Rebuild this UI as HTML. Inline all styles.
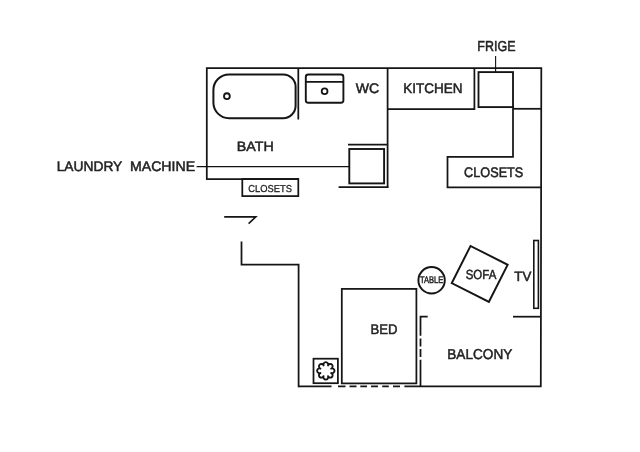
<!DOCTYPE html>
<html><head><meta charset="utf-8"><title>Floor plan</title>
<style>
html,body{margin:0;padding:0;background:#fff;}
body{width:640px;height:452px;overflow:hidden;}
svg{display:block;}
text{font-family:"Liberation Sans",sans-serif;text-rendering:geometricPrecision;fill:#222;stroke:#222;stroke-width:0.5;}
svg{will-change:transform;}
.w{fill:none;stroke:#151515;stroke-width:1.75;stroke-linecap:butt;stroke-linejoin:miter;}
.t{fill:none;stroke:#111;stroke-width:1.1;}
.b{fill:none;stroke:#151515;stroke-width:1.9;}
</style></head>
<body>
<svg width="640" height="452" viewBox="0 0 640 452">
<rect width="640" height="452" fill="#fff"/>
<!-- outer walls -->
<path class="w" d="M206.8 179.6V68.2H541.3L540.8 386.4H404.4"/>
<path class="w" d="M206 179H299"/>
<path class="w" d="M298.5 386.4H331.5"/>
<!-- dashed bottom -->
<path class="w" d="M338 386.4H345.5M349.5 386.4H356.5M360.3 386.4H367M371 386.4H378M382.2 386.4H388.8M393 386.4H400"/>
<!-- left lower walls -->
<path class="w" d="M241.5 241.4V264.5H298.6V387.3"/>
<!-- door -->
<path class="w" d="M224.2 216.9H255.8L248.6 223.7" style="stroke-width:1.6"/>
<!-- bath partition -->
<path class="w" d="M298.3 68V119.5"/>
<!-- bathtub -->
<path class="w" style="stroke-width:2" d="M229 74.4H283.2A12.4 12.4 0 0 1 295.6 86.8V105.8A12.4 12.4 0 0 1 283.2 118.2H229A15.6 15.6 0 0 1 213.4 102.6V90A15.6 15.6 0 0 1 229 74.4Z"/>
<circle class="w" cx="226.9" cy="96.2" r="2.9" style="stroke-width:1.85"/>
<!-- sink -->
<rect class="w" x="305.8" y="74.5" width="37.6" height="28.3" rx="2.5" style="stroke-width:1.9"/>
<path class="w" d="M305.6 81.8H343.4"/>
<circle class="w" cx="324.6" cy="91.3" r="2.9" style="stroke-width:1.8"/>
<!-- wc/kitchen divider -->
<path class="w" d="M387.6 68V187.8"/>
<path class="w" d="M338.6 187H388.4"/>
<path class="w" d="M348 144.5H387.6"/>
<!-- washing machine -->
<rect class="b" x="349.3" y="149" width="34.8" height="34.4"/>
<!-- kitchen box -->
<path class="w" d="M387.6 109.2H474.4V68"/>
<!-- fridge -->
<rect class="w" x="478.5" y="72.1" width="34.5" height="35" style="stroke-width:1.85"/>
<path class="w" d="M513 106V156.8H447.5V187.4H541.2"/>
<path class="w" d="M513 108.8H541.3"/>
<!-- leader lines -->
<path class="t" d="M495.6 56V72"/>
<path class="t" d="M196.6 166.6H349.6"/>
<!-- small closets box -->
<rect class="w" x="242.3" y="179" width="56" height="17.1"/>
<!-- bed -->
<rect class="w" x="341.8" y="288.9" width="74.6" height="94.5"/>
<!-- plant box -->
<rect class="w" x="313.5" y="358.7" width="24.4" height="24.5" style="stroke-width:1.75"/>
<path class="w" style="stroke-width:1.9;stroke-linejoin:round" d="M323.58 365.44A2.41 2.41 0 1 1 328.02 365.44A2.41 2.41 0 1 1 331.16 368.58A2.41 2.41 0 1 1 331.16 373.02A2.41 2.41 0 1 1 328.02 376.16A2.41 2.41 0 1 1 323.58 376.16A2.41 2.41 0 1 1 320.44 373.02A2.41 2.41 0 1 1 320.44 368.58A2.41 2.41 0 1 1 323.58 365.44Z"/>
<!-- balcony -->
<path class="w" d="M427.7 316.6H420.5V335.7M420.5 338.5V346.5M420.5 349.1V356.9M420.5 359.7V386.4"/>
<path class="w" d="M513 316.7H541"/>
<!-- table -->
<circle class="w" cx="431.6" cy="280.3" r="13.2" style="stroke-width:1.95"/>
<!-- sofa -->
<rect class="w" x="-20.8" y="-20.8" width="41.6" height="41.6" transform="translate(479.7 273.9) rotate(26.8)" style="stroke-width:1.95"/>
<!-- tv -->
<rect class="w" x="533.8" y="240.5" width="4.6" height="67.8" style="stroke-width:1.6"/>
<!-- labels -->
<text x="477.3" y="51" font-size="14.4" textLength="38.2" lengthAdjust="spacingAndGlyphs">FRIGE</text>
<text x="355.8" y="92.7" font-size="13.8" textLength="23.5" lengthAdjust="spacingAndGlyphs">WC</text>
<text x="403.3" y="92.7" font-size="13.8" textLength="59.2" lengthAdjust="spacingAndGlyphs">KITCHEN</text>
<text x="236.8" y="151.4" font-size="13.5" textLength="36.9" lengthAdjust="spacingAndGlyphs">BATH</text>
<text x="56.7" y="170.9" font-size="13.8" textLength="65.6" lengthAdjust="spacingAndGlyphs">LAUNDRY</text>
<text x="130" y="170.9" font-size="13.8" textLength="65.1" lengthAdjust="spacingAndGlyphs">MACHINE</text>
<text x="464.1" y="177.3" font-size="13.8" textLength="59.2" lengthAdjust="spacingAndGlyphs">CLOSETS</text>
<text x="248.3" y="191.5" font-size="10" textLength="43.6" lengthAdjust="spacingAndGlyphs" style="stroke-width:.3">CLOSETS</text>
<text x="370.4" y="334.4" font-size="14" textLength="27" lengthAdjust="spacingAndGlyphs">BED</text>
<text x="447.3" y="358.6" font-size="14.3" textLength="65" lengthAdjust="spacingAndGlyphs">BALCONY</text>
<text x="465.7" y="278.7" font-size="13.2" textLength="30.6" lengthAdjust="spacingAndGlyphs">SOFA</text>
<text x="514.3" y="281.0" font-size="13.3" textLength="17" lengthAdjust="spacingAndGlyphs">TV</text>
<text x="420" y="283.1" font-size="9.6" textLength="23.3" lengthAdjust="spacingAndGlyphs" style="stroke-width:.45">TABLE</text>
</svg>
</body></html>
